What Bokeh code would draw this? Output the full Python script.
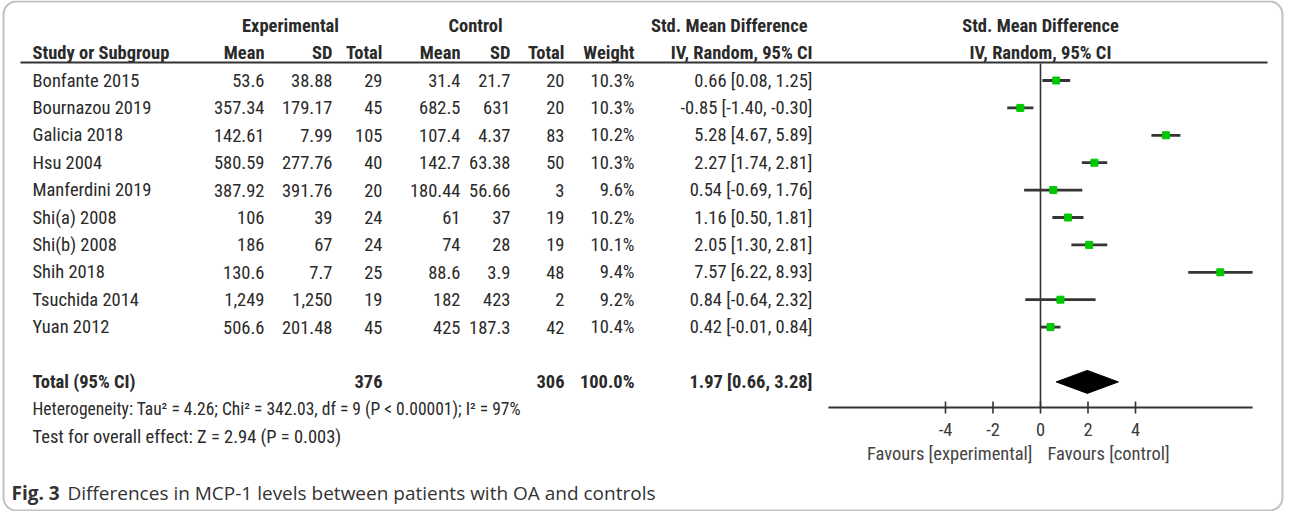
from bokeh.plotting import figure
from bokeh.models import Range1d, BoxAnnotation, ColumnDataSource
from bokeh.core.properties import value
from bokeh.embed import file_html
from bokeh.resources import INLINE

# ---------------- data ----------------
studies = ["Bonfante 2015", "Bournazou 2019", "Galicia 2018", "Hsu 2004", "Manferdini 2019",
           "Shi(a) 2008", "Shi(b) 2008", "Shih 2018", "Tsuchida 2014", "Yuan 2012"]
exp_mean = ["53.6", "357.34", "142.61", "580.59", "387.92", "106", "186", "130.6", "1,249", "506.6"]
exp_sd = ["38.88", "179.17", "7.99", "277.76", "391.76", "39", "67", "7.7", "1,250", "201.48"]
exp_n = [29, 45, 105, 40, 20, 24, 24, 25, 19, 45]
ctl_mean = ["31.4", "682.5", "107.4", "142.7", "180.44", "61", "74", "88.6", "182", "425"]
ctl_sd = ["21.7", "631", "4.37", "63.38", "56.66", "37", "28", "3.9", "423", "187.3"]
ctl_n = [20, 20, 83, 50, 3, 19, 19, 48, 2, 42]
weight = [10.3, 10.3, 10.2, 10.3, 9.6, 10.2, 10.1, 9.4, 9.2, 10.4]
smd = [0.66, -0.85, 5.28, 2.27, 0.54, 1.16, 2.05, 7.57, 0.84, 0.42]
ci_lo = [0.08, -1.40, 4.67, 1.74, -0.69, 0.50, 1.30, 6.22, -0.64, -0.01]
ci_hi = [1.25, -0.30, 5.89, 2.81, 1.76, 1.81, 2.81, 8.93, 2.32, 0.84]
total_exp = 376
total_ctl = 306
total_weight = 100.0
pooled = 1.97
pooled_lo = 0.66
pooled_hi = 3.28
axis_ticks = [-4, -2, 0, 2, 4]
axis_limit = 8.93
heterogeneity = "Heterogeneity: Tau\u00b2 = 4.26; Chi\u00b2 = 342.03, df = 9 (P < 0.00001); I\u00b2 = 97%"
overall = "Test for overall effect: Z = 2.94 (P = 0.003)"
caption_bold = "Fig. 3"
caption_rest = "Differences in MCP-1 levels between patients with OA and controls"

# ---------------- layout ----------------
W, H = 1284, 511
ROW0, ROWH = 88.0, 27.4        # page y of first row, row height
ZERO_X, UNIT = 1048.0, 23.75   # page x of SMD=0, px per SMD unit


def row_of(py):
    return (py - ROW0) / ROWH


FONT = value("Roboto Condensed, DejaVu Sans Condensed")
FS = "18.5px"
TXT = "#2a2a2a"

p = figure(width=W, height=H, x_range=Range1d(8, 8 + W),
           y_range=Range1d(row_of(8 + H), row_of(8)),
           output_backend="svg", toolbar_location=None, min_border=0,
           x_axis_type=None, y_axis_type=None, outline_line_color=None,
           background_fill_color="white", border_fill_color="white")
p.extra_x_ranges = {"smd": Range1d((8 - ZERO_X) / UNIT, (8 + W - ZERO_X) / UNIT)}

rows = list(range(len(studies)))


def txt(x, y, t, align="right", bold=False, size=FS, color=TXT, font=FONT, x_range_name="default"):
    kw = {}
    if x_range_name != "default":
        kw["x_range_name"] = x_range_name
    p.text(x=x, y=y, text=t, text_align=align, text_baseline="middle",
           text_font=font, text_font_size=size, text_color=color,
           text_font_style="bold" if bold else "normal", **kw)


# frame
p.add_layout(BoxAnnotation(left=11, right=1290, top=row_of(9), bottom=row_of(518),
                           fill_alpha=0, line_color="#333333", line_width=2,
                           border_radius=13))

# headers
txt([298], [-2], ["Experimental"], align="center", bold=True)
txt([483], [-2], ["Control"], align="center", bold=True)
txt([815], [-2], ["Std. Mean Difference"], align="right", bold=True)
txt([ZERO_X], [-2], ["Std. Mean Difference"], align="center", bold=True)
txt([40], [-1], ["Study or Subgroup"], align="left", bold=True)
hdr_x = [272, 340, 390, 468, 518, 572, 642, 820]
hdr_t = ["Mean", "SD", "Total", "Mean", "SD", "Total", "Weight", "IV, Random, 95% CI"]
txt(hdr_x, [-1] * len(hdr_x), hdr_t, bold=True)
txt([ZERO_X], [-1], ["IV, Random, 95% CI"], align="center", bold=True)

# header underline
p.segment(x0=[28], x1=[1275], y0=[row_of(70)], y1=[row_of(70)], line_color="#333333", line_width=2)

# study rows
src = ColumnDataSource(dict(
    row=rows, study=studies, em=exp_mean, esd=exp_sd, en=[str(v) for v in exp_n],
    cm=ctl_mean, csd=ctl_sd, cn=[str(v) for v in ctl_n],
    w=[f"{v:.1f}%" for v in weight],
    ci=[f"{m:.2f} [{lo:.2f}, {hi:.2f}]" for m, lo, hi in zip(smd, ci_lo, ci_hi)],
    smd=smd, lo=ci_lo, hi=ci_hi))

for col, xx, al in [("study", 40, "left"), ("em", 272, "right"), ("esd", 340, "right"),
                    ("en", 390, "right"), ("cm", 468, "right"), ("csd", 518, "right"),
                    ("cn", 572, "right"), ("w", 642, "right"), ("ci", 820, "right")]:
    p.text(x=xx, y="row", text=col, source=src, text_align=al, text_baseline="middle",
           text_font=FONT, text_font_size=FS, text_color=TXT)

# totals
TR = 11
txt([40], [TR], ["Total (95% CI)"], align="left", bold=True)
txt([390], [TR], [str(total_exp)], bold=True)
txt([572], [TR], [str(total_ctl)], bold=True)
txt([642], [TR], [f"{total_weight:.1f}%"], bold=True)
txt([820], [TR], [f"{pooled:.2f} [{pooled_lo:.2f}, {pooled_hi:.2f}]"], bold=True)
txt([40], [TR + 1], [heterogeneity], align="left", size="17.5px")
txt([40], [TR + 2], [overall], align="left")

# forest plot
axis_row = row_of(415)
p.segment(x0=[0], x1=[0], y0=[row_of(71)], y1=[axis_row], x_range_name="smd",
          line_color="#333333", line_width=1.6)
p.segment(x0="lo", x1="hi", y0="row", y1="row", source=src, x_range_name="smd",
          line_color="#353535", line_width=2.8)
p.scatter(x="smd", y="row", source=src, x_range_name="smd", marker="square",
          size=7, fill_color="#00c800", line_color="#00c800")
dh = 11.5 / ROWH
p.patch(x=[pooled_lo, pooled, pooled_hi, pooled], y=[TR, TR - dh, TR, TR + dh],
        x_range_name="smd", fill_color="black", line_color="black")

# axis
p.segment(x0=[-axis_limit], x1=[axis_limit], y0=[axis_row], y1=[axis_row],
          x_range_name="smd", line_color="#333333", line_width=2)
tk = 6 / ROWH
p.segment(x0=axis_ticks, x1=axis_ticks, y0=[axis_row - tk] * len(axis_ticks),
          y1=[axis_row + tk] * len(axis_ticks), x_range_name="smd",
          line_color="#333333", line_width=1.6)
txt(axis_ticks, [row_of(437)] * len(axis_ticks), [str(t) for t in axis_ticks],
    align="center", color="#3a3a3a", x_range_name="smd")
txt([-8 / UNIT], [row_of(461)], ["Favours [experimental]"], align="right",
    color="#444444", x_range_name="smd")
txt([7 / UNIT], [row_of(461)], ["Favours [control]"], align="left",
    color="#444444", x_range_name="smd")

# caption
CAP = value("Open Sans")
txt([19], [row_of(500)], [caption_bold], align="left", bold=True, size="19px",
    color="#333333", font=CAP)
txt([75], [row_of(500)], [caption_rest], align="left", size="19px",
    color="#333333", font=CAP)

open("out.html", "w").write(file_html(p, INLINE))
